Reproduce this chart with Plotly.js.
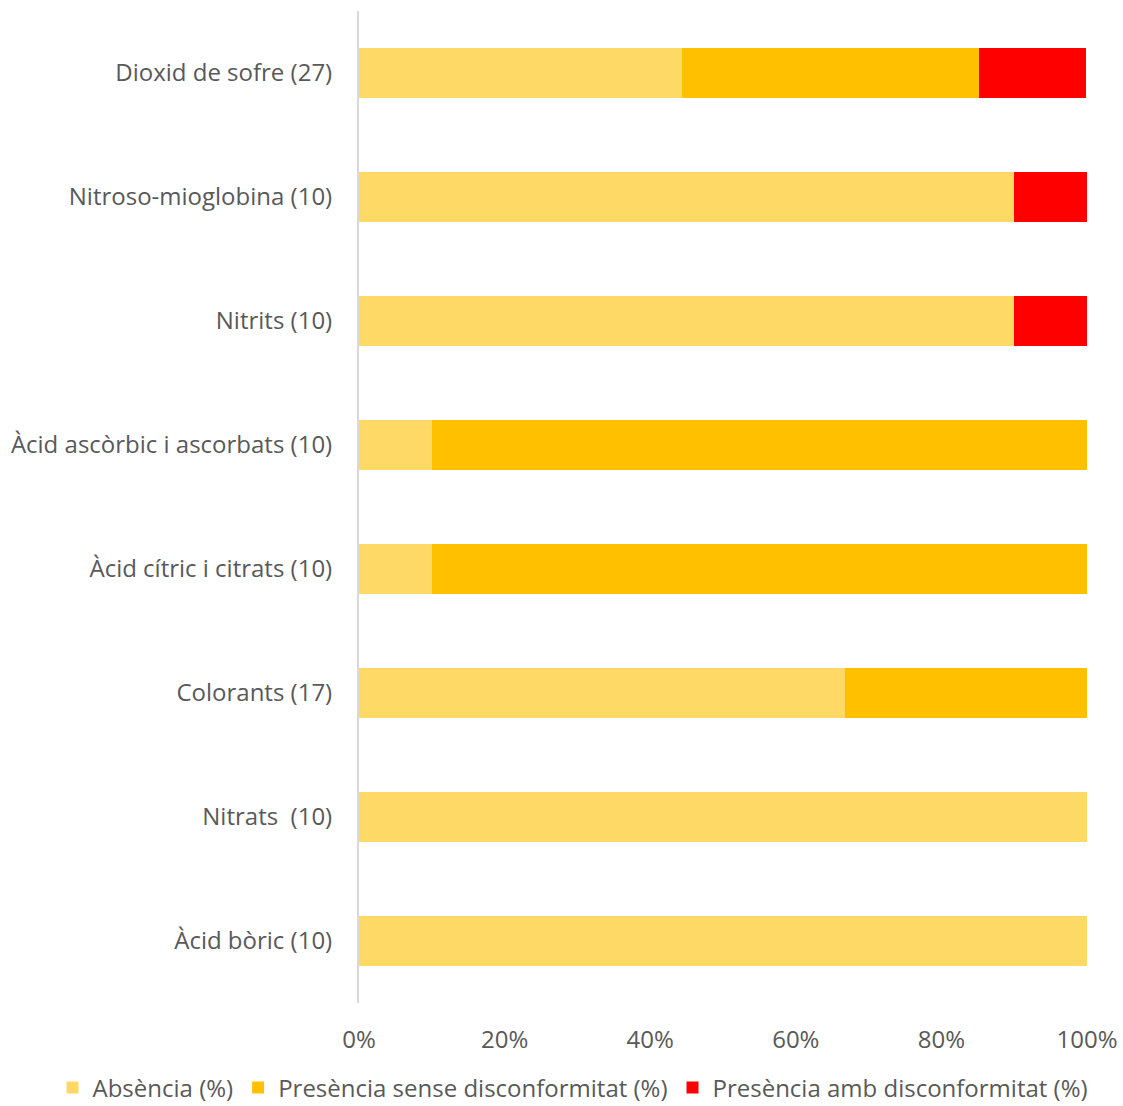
<!DOCTYPE html>
<html><head><meta charset="utf-8">
<script src="https://cdn.plot.ly/plotly-3.0.1.min.js"></script>
<style>html,body{margin:0;padding:0;background:#fff}#chart{width:1123px;height:1106px}</style>
</head><body><div id="chart"></div>
<script>
const categories = ["Àcid bòric (10)", "Nitrats  (10)", "Colorants (17)", "Àcid cítric i citrats (10)", "Àcid ascòrbic i ascorbats (10)", "Nitrits (10)", "Nitroso-mioglobina (10)", "Dioxid de sofre (27)"];
const absencia = [100, 100, 66.7, 10, 10, 90, 90, 44.4];
const presenciaSense = [0, 0, 33.3, 90, 90, 0, 0, 40.7];
const presenciaAmb = [0, 0, 0, 0, 0, 10, 10, 14.8];
const seriesNames = ["Absència (%)", "Presència sense disconformitat (%)", "Presència amb disconformitat (%)"];
const colors = ["#FFD966", "#FFC000", "#FF0000"];
const tickVals = [0, 20, 40, 60, 80, 100];
const tickText = ["0%", "20%", "40%", "60%", "80%", "100%"];

const data = [absencia, presenciaSense, presenciaAmb].map((vals, i) => ({
  type: 'bar', orientation: 'h', y: categories, x: vals, name: seriesNames[i],
  marker: {color: colors[i], line: {width: 0}}, hoverinfo: 'x+y'
}));

const layout = {
  width: 1123, height: 1106,
  barmode: 'stack', bargap: 0.6,
  margin: {l: 359, r: 36, t: 11, b: 103, autoexpand: false},
  font: {family: '"Open Sans", sans-serif', size: 24, color: '#595959'},
  paper_bgcolor: '#fff', plot_bgcolor: '#fff',
  xaxis: {range: [0, 100], tickvals: tickVals, ticktext: tickText, showgrid: false, zeroline: false,
          showline: false, ticks: '', ticklabelstandoff: 20, fixedrange: true},
  yaxis: {showline: true, linecolor: '#D9D9D9', linewidth: 2, ticks: '', showgrid: false,
          ticklabelstandoff: 20, fixedrange: true},
  showlegend: true,
  legend: {orientation: 'h', xref: 'paper', yref: 'paper', x: -0.421, xanchor: 'left', y: -0.0857, yanchor: 'middle',
           font: {size: 24, color: '#595959'}, traceorder: 'normal', itemwidth: 30, tracegroupgap: 0},
};
Plotly.newPlot('chart', data, layout, {displayModeBar: false, staticPlot: true});
</script></body></html>
